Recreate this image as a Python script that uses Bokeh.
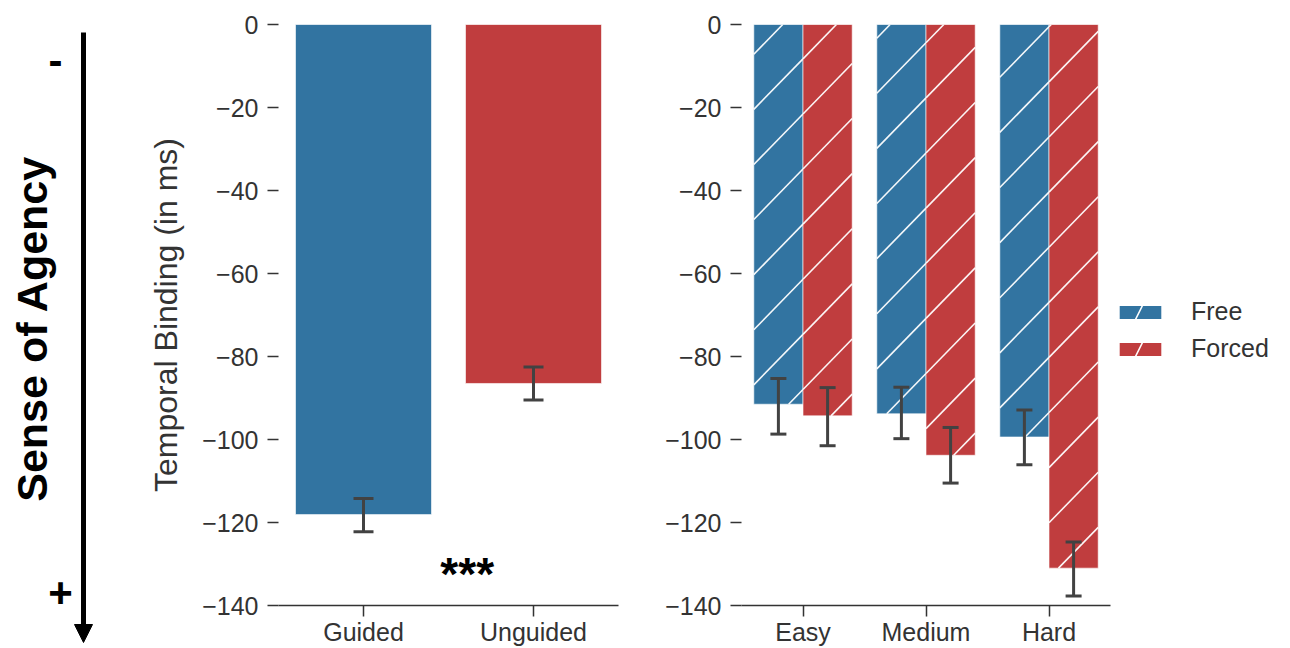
import math
from bokeh.plotting import figure
from bokeh.models import (Range1d, FactorRange, ColumnDataSource, Label, Arrow,
                          NormalHead, FixedTicker, Legend, LegendItem)
from bokeh.transform import dodge
from bokeh.layouts import row, column
from bokeh.embed import file_html
from bokeh.resources import INLINE

# ---------------- data ----------------
guidance = ["Guided", "Unguided"]
guidance_mean = [-118.1, -86.5]
guidance_lo = [-122.2, -90.5]
guidance_hi = [-114.2, -82.5]

difficulty = ["Easy", "Medium", "Hard"]
free_mean = [-91.5, -93.8, -99.4]
free_lo = [-98.7, -99.8, -106.1]
free_hi = [-85.3, -87.4, -92.9]
forced_mean = [-94.3, -103.8, -131.0]
forced_lo = [-101.5, -110.5, -137.7]
forced_hi = [-87.5, -97.1, -124.7]

y_ticks = [0, -20, -40, -60, -80, -100, -120, -140]
y_tick_labels = ["0", "\u221220", "\u221240", "\u221260", "\u221280",
                 "\u2212100", "\u2212120", "\u2212140"]
series = ["Free", "Forced"]
significance = "***"

# ---------------- style ----------------
BLUE = "#3274a1"
RED = "#c03d3e"
ERR = "#424242"
TXT = "#333333"
FONT = "Liberation Sans"
H = 648
TOP = 24
BOTTOM = 41
P2_FRAME_W = 369
FRAME_H = H - TOP - BOTTOM
Y_MIN = -140
BAR_W2 = 0.4

# hatch texture of the right panel (screen pixels, relative to the plot frame)
HATCH_STEP = 55.3
HATCH_SLOPE = 1.03
HATCH_PHASE = 42.5


def style_axes(p, ylabel=None):
    p.xgrid.visible = False
    p.ygrid.visible = False
    p.outline_line_color = None
    ya = p.yaxis[0]
    ya.ticker = FixedTicker(ticks=y_ticks)
    ya.major_label_overrides = {t: l for t, l in zip(y_ticks, y_tick_labels)}
    ya.axis_line_color = None
    ya.major_tick_out = 11
    ya.major_tick_in = 0
    ya.minor_tick_out = 0
    ya.minor_tick_in = 0
    ya.major_tick_line_color = TXT
    ya.major_tick_line_width = 1.5
    ya.major_label_text_font = FONT
    ya.major_label_text_font_size = "25px"
    ya.major_label_text_color = TXT
    ya.major_label_standoff = 9
    if ylabel:
        ya.axis_label = ylabel
        ya.axis_label_text_font = FONT
        ya.axis_label_text_font_size = "32px"
        ya.axis_label_text_font_style = "normal"
        ya.axis_label_text_color = TXT
        ya.axis_label_standoff = 15
    xa = p.xaxis[0]
    xa.axis_line_color = TXT
    xa.axis_line_width = 1.5
    xa.major_tick_out = 11
    xa.major_tick_in = 0
    xa.major_tick_line_color = TXT
    xa.major_tick_line_width = 1.5
    xa.major_label_text_font = FONT
    xa.major_label_text_font_size = "25px"
    xa.major_label_text_color = TXT
    xa.major_label_standoff = 1


def hatch_lines(bottoms, offset, width, n_cats):
    """Diagonal '/' hatch lines clipped to each bar (returned in data coords)."""
    sx = P2_FRAME_W / n_cats
    sy = FRAME_H / (-Y_MIN)
    m, step, ph = HATCH_SLOPE, HATCH_STEP, HATCH_PHASE
    x0s, y0s, x1s, y1s = [], [], [], []
    for i, b in enumerate(bottoms):
        c = i + 0.5 + offset
        xl, xr = (c - width / 2) * sx, (c + width / 2) * sx
        yt, yb = 0.0, -b * sy
        kmin = math.ceil((yt + m * xl - ph) / step)
        kmax = math.floor((yb + m * xr - ph) / step)
        for k in range(kmin, kmax + 1):
            cc = ph + step * k
            xa = max(xl, (cc - yb) / m)
            xb = min(xr, (cc - yt) / m)
            if xb <= xa:
                continue
            ya, yb2 = cc - m * xa, cc - m * xb
            x0s.append(xa / sx)
            y0s.append(-ya / sy)
            x1s.append(xb / sx)
            y1s.append(-yb2 / sy)
    return dict(x0=x0s, y0=y0s, x1=x1s, y1=y1s)


# ---------------- panel 0 : sense of agency annotation ----------------
# frame covers the whole page height; ranges are in page pixels
p0 = figure(width=120, height=H, x_range=Range1d(0, 120), y_range=Range1d(H, 0),
            x_axis_type=None, y_axis_type=None, toolbar_location=None,
            output_backend="svg", min_border=0)
p0.grid.visible = False
p0.outline_line_color = None
p0.add_layout(Arrow(end=NormalHead(size=18, fill_color="black", line_color="black", line_width=1),
                    x_start=83, y_start=32, x_end=83, y_end=642,
                    line_width=5, line_color="black"))
p0.add_layout(Label(x=31, y=328, text="Sense of Agency", angle=math.pi / 2,
                    text_align="center", text_baseline="middle", text_font=FONT,
                    text_font_size="43px", text_font_style="bold", text_color="black"))
p0.add_layout(Label(x=55, y=60, text="-", text_align="center", text_baseline="middle",
                    text_font=FONT, text_font_size="42px", text_font_style="bold",
                    text_color="black"))
p0.add_layout(Label(x=60, y=592, text="+", text_align="center", text_baseline="middle",
                    text_font=FONT, text_font_size="42px", text_font_style="bold",
                    text_color="black"))

# ---------------- panel 1 : guidance ----------------
src1 = ColumnDataSource(dict(cat=guidance, mean=guidance_mean, lo=guidance_lo,
                             hi=guidance_hi, color=[BLUE, RED]))
p1 = figure(frame_width=340, height=H, x_range=FactorRange(*guidance),
            y_range=Range1d(Y_MIN, 0), toolbar_location=None, output_backend="svg",
            min_border_left=158, min_border_right=20, min_border_top=TOP,
            min_border_bottom=BOTTOM)
p1.vbar(x="cat", top=0, bottom="mean", width=0.8, fill_color="color",
        line_color="white", line_alpha=0.6, line_width=1, source=src1)
p1.segment(x0="cat", y0="lo", x1="cat", y1="hi", line_color=ERR, line_width=3, source=src1)
p1.scatter(x="cat", y="lo", marker="dash", size=20, line_color=ERR, line_width=3, source=src1)
p1.scatter(x="cat", y="hi", marker="dash", size=20, line_color=ERR, line_width=3, source=src1)
p1.add_layout(Label(x=1.11, y=-132.5, text=significance, text_align="center",
                    text_baseline="alphabetic", text_font=FONT, text_font_size="46px",
                    text_font_style="bold", text_color="black"))
style_axes(p1, "Temporal Binding (in ms)")

# ---------------- panel 2 : difficulty x choice ----------------
src_free = ColumnDataSource(dict(cat=difficulty, mean=free_mean, lo=free_lo, hi=free_hi))
src_forced = ColumnDataSource(dict(cat=difficulty, mean=forced_mean, lo=forced_lo, hi=forced_hi))
p2 = figure(frame_width=P2_FRAME_W, height=H, x_range=FactorRange(*difficulty),
            y_range=Range1d(Y_MIN, 0), toolbar_location=None, output_backend="svg",
            min_border_left=103, min_border_right=0, min_border_top=TOP,
            min_border_bottom=BOTTOM)
legend_renderers = []
for src, means, off, col in ((src_free, free_mean, -0.2, BLUE),
                             (src_forced, forced_mean, 0.2, RED)):
    xs = dodge("cat", off, range=p2.x_range)
    p2.vbar(x=xs, top=0, bottom="mean", width=BAR_W2, fill_color=col,
            line_color="white", line_alpha=0.6, line_width=1, source=src)
    p2.segment(x0="x0", y0="y0", x1="x1", y1="y1", line_color="white", line_width=1.6,
               line_alpha=0.95, source=ColumnDataSource(hatch_lines(means, off, BAR_W2,
                                                                    len(difficulty))))
    # legend swatch: zero-height bar (invisible in the plot) carrying the hatch style
    lr = p2.vbar(x=xs, top=0, bottom=0, width=BAR_W2, fill_color=col,
                 line_color="white", line_alpha=0.0, line_width=1,
                 hatch_pattern="/", hatch_color="white", hatch_scale=112, hatch_weight=1.6,
                 source=ColumnDataSource(dict(cat=difficulty[:1])))
    legend_renderers.append(lr)
    p2.segment(x0=xs, y0="lo", x1=xs, y1="hi", line_color=ERR, line_width=3, source=src)
    p2.scatter(x=xs, y="lo", marker="dash", size=16, line_color=ERR, line_width=3, source=src)
    p2.scatter(x=xs, y="hi", marker="dash", size=16, line_color=ERR, line_width=3, source=src)
style_axes(p2)

legend = Legend(items=[LegendItem(label=series[0], renderers=[legend_renderers[0]]),
                       LegendItem(label=series[1], renderers=[legend_renderers[1]])],
                location=(4, 242), padding=8, margin=0, border_line_color=None,
                background_fill_alpha=0, glyph_width=52, glyph_height=16,
                label_standoff=25, spacing=8, label_text_font=FONT,
                label_text_font_size="25px", label_text_color=TXT)
p2.add_layout(legend, "right")

layout = row(column(p0), p1, p2)
open("out.html", "w").write(file_html(layout, INLINE))
